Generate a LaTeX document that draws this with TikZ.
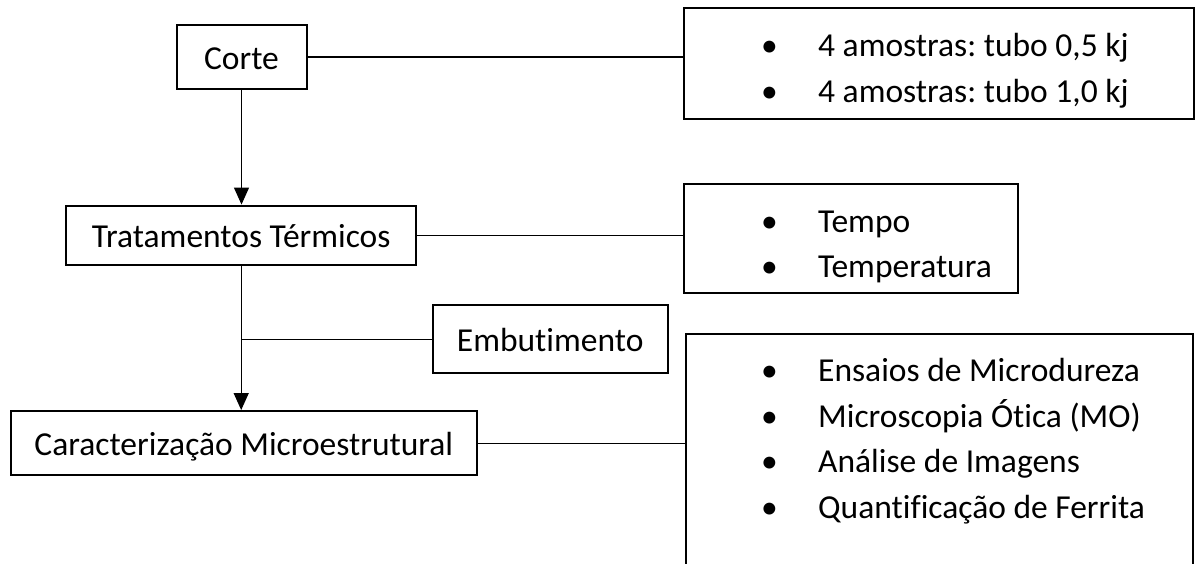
\documentclass[tikz,border=0pt]{standalone}
\usepackage{fontspec}
\setmainfont{Carlito}[Ligatures=NoCommon]
\frenchspacing
\usetikzlibrary{arrows.meta, positioning}
\tikzset{
  stepnode/.style = {draw=black, line width=2pt, inner sep=0pt,
    align=center, text height=26pt, text depth=2pt,
    font=\fontsize{33.5}{45.5}\selectfont},
  listbox/.style = {draw=black, line width=2pt, inner sep=0pt},
  listtext/.style = {inner sep=0pt, align=left, anchor=north west,
    font=\fontsize{33.5}{45.5}\selectfont},
  link/.style = {line width=1.2pt},
  flow/.style = {link, -{Triangle[width=15pt,length=17pt]}}
}
\newcommand{\itm}[1]{\strut\makebox[57pt][l]{\textbullet}#1}

\begin{document}
\begin{tikzpicture}[x=1pt, y=1pt]
\useasboundingbox (0,0) rectangle (1195,-563);
\clip (0,0) rectangle (1195,-563);
% steps
\node [stepnode, minimum width=130pt, minimum height=64pt] (corte) at (241.5,-57) {Corte};
\node [stepnode, minimum width=350pt, minimum height=59.5pt] (trat) at (241.2,-235.3) {Tratamentos Térmicos};
\node [stepnode, minimum width=235pt, minimum height=68.3pt] (embut) at (550.2,-339.2) {Embutimento};
\node [stepnode, minimum width=465.7pt, minimum height=64.3pt] (charac) at (243.8,-443.2) {Caracterização Microestrutural};
% lists
\node [listbox, minimum width=509.7pt, minimum height=110.7pt] (samples) at (939.2,-63.7) {};
\node [listtext] (sampleitems) at (761,-24.5) {\itm{4 amostras: tubo 0,5 kj}\\ \itm{4 amostras: tubo 1,0 kj}};
\node [listbox, minimum width=333.4pt, minimum height=108.8pt] (factors) at (851,-238.1) {};
\node [listtext] (factoritems) at (761,-200) {\itm{Tempo}\\ \itm{Temperatura}};
\node [listbox, minimum width=507.3pt, minimum height=300pt] (results) at (939.4,-483.7) {};
\node [listtext] (resultitems) at (761,-349.5) {\itm{Ensaios de Microdureza}\\ \itm{Microscopia Ótica (MO)}\\
  \itm{Análise de Imagens}\\ \itm{Quantificação de Ferrita}};
% connectors
\draw [flow] (corte) -- (corte.south |- trat.north);
\draw [flow] (trat.south) -- (trat.south |- charac.north);
\draw [link] (embut.west) -- (embut.west -| trat.south);
\draw [link] (corte.east) -- (corte.east -| samples.west);
\draw [link] (trat.east) -- (trat.east -| factors.west);
\draw [link] (charac.east) -- (charac.east -| results.west);
\end{tikzpicture}
\end{document}
